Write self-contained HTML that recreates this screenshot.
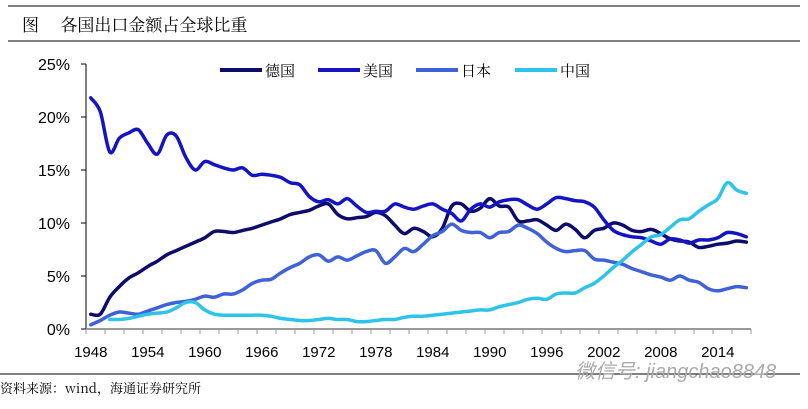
<!DOCTYPE html>
<html><head><meta charset="utf-8"><style>
body{margin:0;background:#fff;width:808px;height:404px;overflow:hidden;font-family:"Liberation Sans","Noto Sans CJK SC",sans-serif}
</style></head><body>
<svg width="808" height="404">
<line x1="8" y1="6" x2="800" y2="6" stroke="#000" stroke-width="1"/>
<text x="22" y="31" font-size="17" font-family="Noto Serif CJK SC, serif">图　 各国出口金额占全球比重</text>
<line x1="8" y1="41" x2="800" y2="41" stroke="#000" stroke-width="1"/>
<line x1="0" y1="374" x2="800" y2="374" stroke="#000" stroke-width="1"/>
<text x="0" y="393" font-size="13" font-family="Noto Serif CJK SC, serif">资料来源：wind，海通证券研究所</text>
<text x="575" y="378" font-size="20" fill="#aaa" font-style="italic">微信号: jiangchao8848</text>
<g id="axes"></g><g id="series"></g><g id="legend"></g>
</svg>
<script>
const years=[];for(let y=1948;y<=2017;y++)years.push(y);
const tickYears=[1948,1954,1960,1966,1972,1978,1984,1990,1996,2002,2008,2014];
const yTicks=[0,5,10,15,20,25];
const seriesNames=["德国","美国","日本","中国"];
const germany=[1.4,1.4,3.0,4.0,4.8,5.3,5.9,6.4,7.0,7.4,7.8,8.2,8.6,9.2,9.2,9.1,9.3,9.5,9.8,10.1,10.4,10.8,11.0,11.2,11.6,11.8,10.8,10.4,10.5,10.6,11.0,10.7,9.8,9.0,9.5,9.2,8.7,9.5,11.6,11.8,11.1,11.4,12.3,11.6,11.5,10.2,10.2,10.3,9.8,9.3,9.9,9.4,8.6,9.3,9.5,10.0,9.8,9.3,9.2,9.4,9.0,8.5,8.3,8.2,7.7,7.8,8.0,8.1,8.3,8.2];
const usa=[21.8,20.5,16.7,18,18.5,18.8,17.5,16.5,18.3,18.2,16.2,15,15.8,15.5,15.2,15,15.2,14.5,14.6,14.5,14.3,13.8,13.6,12.5,12,12.2,11.8,12.3,11.6,11,11.1,11.1,11.8,11.5,11.3,11.6,11.8,11.3,10.9,10.2,11.3,11.8,11.5,12,12.2,12.2,11.7,11.3,11.8,12.4,12.3,12.1,12,11.5,10.3,9.3,8.9,8.7,8.6,8.3,8.0,8.5,8.4,8.1,8.4,8.4,8.6,9.1,9.0,8.7];
const japan=[0.4,0.8,1.3,1.6,1.5,1.4,1.7,2.0,2.3,2.5,2.6,2.8,3.1,3.0,3.3,3.3,3.7,4.3,4.6,4.7,5.3,5.8,6.2,6.8,7.0,6.4,6.8,6.5,6.9,7.3,7.4,6.2,6.8,7.6,7.3,8.0,8.8,9.2,9.9,9.3,9.1,9.1,8.6,9.1,9.2,9.8,9.5,9.0,8.2,7.6,7.3,7.4,7.4,6.6,6.5,6.3,6.1,5.7,5.4,5.1,4.9,4.6,5.0,4.6,4.4,3.8,3.6,3.8,4.0,3.9];
const china=[null,null,0.9,0.9,1.0,1.2,1.4,1.5,1.6,2.0,2.5,2.5,1.8,1.4,1.3,1.3,1.3,1.3,1.3,1.2,1.0,0.9,0.8,0.8,0.9,1.0,0.9,0.9,0.7,0.7,0.8,0.9,0.9,1.1,1.2,1.2,1.3,1.4,1.5,1.6,1.7,1.8,1.8,2.1,2.3,2.5,2.8,2.9,2.8,3.3,3.4,3.4,3.9,4.3,5.0,5.8,6.5,7.3,8.0,8.7,8.9,9.6,10.3,10.4,11.1,11.7,12.3,13.8,13.1,12.8];
const colors=["#0c0c6a","#1414c4","#3f62d8","#2ec4ea"];
const NS="http://www.w3.org/2000/svg";
const X0=86,X1=751,Y0=329,Y25=64;
const band=(X1-X0)/years.length;
const xs=y=>X0+(years.indexOf(y)+0.5)*band;
const ys=v=>Y0-(v/25)*(Y0-Y25);
function mk(t,a,p){const e=document.createElementNS(NS,t);for(const k in a)e.setAttribute(k,a[k]);p.appendChild(e);return e;}
const ax=document.getElementById('axes');
const yl=mk('line',{x1:X0,y1:Y25,x2:X0,y2:Y0,stroke:'#000','stroke-width':1},ax);


yTicks.forEach(v=>{
 const t=mk('line',{x1:X0-5,y1:ys(v),x2:X0,y2:ys(v),stroke:'#000'},ax);
 
 
 const l=mk('text',{x:X0-16,y:ys(v)+6,'text-anchor':'end','font-size':16},ax);l.textContent=v+'%';
 
 
});
const xl=mk('line',{x1:X0,y1:Y0,x2:X1,y2:Y0,stroke:'#999','stroke-width':2},ax);


for(let i=0;i<=years.length;i+=2){
 const x=X0+i*band;
 const t=mk('line',{x1:x,y1:Y0,x2:x,y2:Y0+5,stroke:'#999'},ax);
 
 
}
tickYears.forEach(y=>{
 const l=mk('text',{x:xs(y),y:Y0+28,'text-anchor':'middle','font-size':15},ax);l.textContent=y;
 
 
});
const sg=document.getElementById('series');
[germany,usa,japan,china].forEach((arr,si)=>{
 const pts=[];
 arr.forEach((v,i)=>{if(v!=null)pts.push([xs(years[i]),ys(v)]);});
 let d='M'+pts[0][0].toFixed(1)+','+pts[0][1].toFixed(1);
 for(let i=0;i<pts.length-1;i++){
  const p0=pts[Math.max(0,i-1)],p1=pts[i],p2=pts[i+1],p3=pts[Math.min(pts.length-1,i+2)];
  const c1=[p1[0]+(p2[0]-p0[0])/6,p1[1]+(p2[1]-p0[1])/6];
  const c2=[p2[0]-(p3[0]-p1[0])/6,p2[1]-(p3[1]-p1[1])/6];
  d+='C'+c1[0].toFixed(1)+','+c1[1].toFixed(1)+' '+c2[0].toFixed(1)+','+c2[1].toFixed(1)+' '+p2[0].toFixed(1)+','+p2[1].toFixed(1);
 }
 const p=mk('path',{d:d,fill:'none',stroke:colors[si],'stroke-width':3.5,'stroke-linejoin':'round','stroke-linecap':'round'},sg);
 
 
});
const lg=document.getElementById('legend');
const lx=[220,318,416,515];
seriesNames.forEach((n,i)=>{
 const l=mk('line',{x1:lx[i],y1:70,x2:lx[i]+42,y2:70,stroke:colors[i],'stroke-width':4},lg);
 
 
 const t=mk('text',{x:lx[i]+45,y:76,'font-size':15,'font-family':'Noto Serif CJK SC, serif'},lg);t.textContent=n;
 
 
});
</script>
</body></html>
